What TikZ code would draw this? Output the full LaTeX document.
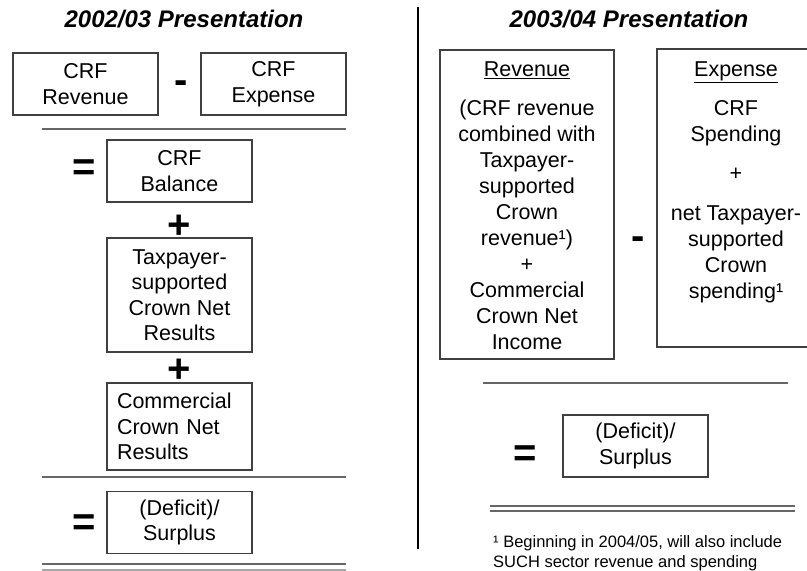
\documentclass[tikz,border=0pt]{standalone}
\usepackage{fontspec}
\setmainfont{Liberation Sans}
\tikzset{
 box/.style={draw=black!75, line width=1.1pt, inner sep=0pt, align=center, font=\fontsize{21.5}{25.5}\selectfont},
 txt/.style={inner sep=0pt, align=center, font=\fontsize{21.5}{26}\selectfont},
 sign/.style={inner sep=0pt, font=\fontsize{40}{40}\selectfont\bfseries},
 minussign/.style={sign, yshift=-6pt},
 eqsign/.style={sign, yshift=-5pt},
 plussign/.style={sign, yshift=-3.5pt},
 ttl/.style={inner sep=0pt, font=\fontsize{24}{28}\selectfont\bfseries\itshape},
 rule/.style={draw=black!60, line width=1.2pt},
 rulelight/.style={draw=black!35, line width=1.2pt},
 fnote/.style={inner sep=0pt, align=left, font=\fontsize{16.5}{20}\selectfont},
}
\begin{document}
\begin{tikzpicture}[x=1pt,y=-1pt]
\useasboundingbox (0,0) rectangle (807,571);
\clip (0,0) rectangle (807,571);
% ---------- left panel ----------
\node[ttl] (t1) at (184,19) {2002/03 Presentation};
\node[box, minimum width=145pt, minimum height=62pt] (crfrev) at (85.5,84) {CRF\\Revenue};
\node[minussign] (minus1) at (181,81.5) {-};
\node[box, minimum width=145pt, minimum height=62pt] (crfexp) at (273.5,84) {CRF\\Expense};
\coordinate (l1a) at (42,129);
\coordinate (l1b) at (346,129);
\draw[rule] (l1a) -- (l1b);
\node[eqsign] (eq1) at (84,165.5) {=};
\node[box, minimum width=145pt, minimum height=62pt] (bal) at (179.5,171) {CRF\\Balance};
\node[plussign] (plus1) at (179.5,223) {+};
\node[box, minimum width=145pt, minimum height=114pt] (tax) at (179.5,295) {Taxpayer-\\supported\\Crown Net\\Results};
\node[plussign] (plus2) at (179.5,367) {+};
\node[box, text width=125pt, inner xsep=10pt, align=left, minimum height=87pt] (comm) at (179.5,426.5) {Commercial\\Crown Net\\Results};
\coordinate (l2a) at (42,477);
\coordinate (l2b) at (346,477);
\draw[rule] (l2a) -- (l2b);
\node[eqsign] (eq2) at (84,520) {=};
\node[box, minimum width=145pt, minimum height=62pt] (def1) at (179.5,522.5) {(Deficit)/\\Surplus};
\coordinate (l3a) at (42,564);
\coordinate (l3b) at (346,564);
\coordinate (l4a) at (42,570);
\coordinate (l4b) at (346,570);
\draw[rule] (l3a) -- (l3b);
\draw[rulelight] (l4a) -- (l4b);
% ---------- divider ----------
\coordinate (da) at (418,7);
\coordinate (db) at (418,549);
\draw[black, line width=1.2pt] (da) -- (db);
% ---------- right panel ----------
\node[ttl] (t2) at (629,19) {2003/04 Presentation};
\node[box, minimum width=174pt, minimum height=309pt] (rev) at (527,204.5) {};
\node[txt, anchor=north] (revtxt) at (527,61.6) {\underline{Revenue}\\[13pt](CRF revenue\\combined with\\Taxpayer-\\supported\\Crown\\revenue¹)\\+\\Commercial\\Crown Net\\Income};
\node[minussign] (minus2) at (638,237) {-};
\node[box, minimum width=160pt, minimum height=298pt] (exp) at (737,198) {};
\node[txt, anchor=north] (exptxt) at (736,61.6) {\underline{Expense}\\[13pt]CRF\\Spending\\[13pt]+\\[14pt]net Taxpayer-\\supported\\Crown\\spending¹};
\coordinate (r1a) at (483,383);
\coordinate (r1b) at (788,383);
\draw[rule] (r1a) -- (r1b);
\node[eqsign] (eq3) at (525,451) {=};
\node[box, minimum width=145pt, minimum height=62pt] (def2) at (635.5,446) {(Deficit)/\\Surplus};
\coordinate (r2a) at (490,506);
\coordinate (r2b) at (795,506);
\coordinate (r3a) at (490,511);
\coordinate (r3b) at (795,511);
\draw[rule] (r2a) -- (r2b);
\draw[rule] (r3a) -- (r3b);
\node[fnote, anchor=north west] (fn) at (493,535.5) {¹ Beginning in 2004/05, will also include\\SUCH sector revenue and spending};
\end{tikzpicture}
\end{document}
